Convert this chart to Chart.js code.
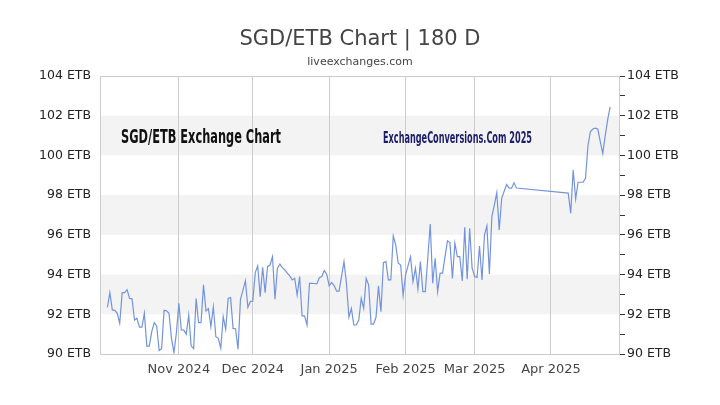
<!DOCTYPE html>
<html><head><meta charset="utf-8">
<script src="https://cdn.jsdelivr.net/npm/chart.js@4"></script>
<style>html,body{margin:0;padding:0;background:#fff}</style>
</head><body>
<canvas id="c" width="720" height="405"></canvas>
<script>
// day numbers are days after 2024-09-30
const firstDay = 3;
const rates = [
92.35,93.09,92.22,92.20,92.05,91.55,93.09,93.09,93.24,92.80,
92.78,91.71,91.80,91.35,91.35,92.05,90.40,90.40,91.13,91.58,
91.41,90.17,90.27,92.20,92.18,92.05,90.79,90.07,91.07,92.55,
91.21,91.20,91.00,91.96,90.40,90.27,92.79,91.58,91.58,93.48,
92.18,92.28,91.38,92.38,90.87,90.79,90.29,91.88,91.24,92.80,
92.84,91.29,91.27,90.24,92.76,93.20,93.69,92.35,92.64,92.67,
94.10,94.43,92.89,94.37,93.09,94.40,94.48,94.90,92.76,94.32,
94.53,94.35,94.23,94.07,93.93,93.73,93.81,92.97,93.90,91.92,
91.92,91.46,93.56,93.56,93.55,93.53,93.84,93.90,94.20,94.02,
93.43,93.60,93.45,93.17,93.17,93.90,94.65,93.56,91.85,92.30,
91.46,91.46,91.71,92.80,92.30,93.81,93.48,91.50,91.50,91.85,
93.43,92.13,94.60,94.65,93.73,93.73,95.94,95.49,94.57,94.48,
92.95,93.98,94.45,94.90,93.64,94.32,93.27,94.65,93.14,93.14,
94.82,96.55,93.56,94.82,93.14,94.07,94.07,94.90,95.70,95.61,
93.81,95.58,94.90,94.90,93.68,96.38,93.76,96.33,94.32,93.90,
93.86,95.44,93.73,95.99,96.45,94.03,96.92,97.50,98.13,96.25,
97.84,98.20,98.53,98.35,98.35,98.62,98.36,
null,null,null,null,null,null,null,null,null,null,
null,null,null,null,null,null,null,null,null,null,
98.10,97.09,99.27,97.80,98.65,98.65,98.65,98.85,100.50,101.20,
101.33,101.37,101.33,100.70,100.10,101.00,101.80,102.45
];
const monthTicks = [32, 62, 93, 124, 152, 183];
const monthLabels = ['Nov 2024', 'Dec 2024', 'Jan 2025', 'Feb 2025', 'Mar 2025', 'Apr 2025'];
const bands = [[92, 94], [96, 98], [100, 102]];
const yMin = 90, yMax = 104;
const titleText = 'SGD/ETB Chart | 180 D';
const subtitleText = 'liveexchanges.com';
const leftNote = 'SGD/ETB Exchange Chart';
const rightNote = 'ExchangeConversions.Com 2025';

const points = rates.map((v, i) => ({x: firstDay + i, y: v}));

function drawScaledText(ctx, text, x, y, font, color, targetW) {
  ctx.save();
  ctx.font = font;
  ctx.fillStyle = color;
  ctx.textAlign = 'left';
  ctx.textBaseline = 'alphabetic';
  const w = ctx.measureText(text).width;
  const sx = targetW / w;
  ctx.translate(x, y);
  ctx.scale(sx, 1);
  ctx.fillText(text, 0, 0);
  ctx.restore();
}

const decor = {
  id: 'decor',
  beforeDraw(chart) {
    const {ctx, chartArea: a, scales} = chart;
    ctx.save();
    ctx.fillStyle = '#fff';
    ctx.fillRect(0, 0, chart.width, chart.height);
    ctx.fillStyle = '#444';
    ctx.textAlign = 'center';
    ctx.textBaseline = 'middle';
    ctx.font = '21px "DejaVu Sans"';
    ctx.fillText(titleText, 360, 40);
    ctx.font = '11px "DejaVu Sans"';
    ctx.fillText(subtitleText, 360, 62);
    ctx.fillStyle = '#f3f3f3';
    bands.forEach(([lo, hi]) => {
      const y1 = scales.y.getPixelForValue(hi);
      const y2 = scales.y.getPixelForValue(lo);
      ctx.fillRect(a.left, y1, a.right - a.left, y2 - y1);
    });
    ctx.restore();
  },
  beforeDatasetsDraw(chart) {
    const {ctx, chartArea: a} = chart;
    ctx.save();
    ctx.strokeStyle = '#cccccc';
    ctx.lineWidth = 1;
    ctx.strokeRect(a.left + 0.5, a.top + 0.5, a.right - a.left - 1, a.bottom - a.top);
    ctx.restore();
    drawScaledText(ctx, leftNote, 121, 142.5, 'bold 20px "DejaVu Sans"', '#111', 160);
    drawScaledText(ctx, rightNote, 383, 143.3, 'bold 16px "DejaVu Sans"', '#1c1c6c', 149);
  }
};

new Chart(document.getElementById('c'), {
  type: 'line',
  data: {
    datasets: [{
      data: points,
      borderColor: '#7394dc',
      borderWidth: 1.2,
      pointRadius: 0,
      tension: 0,
      spanGaps: true,
      yAxisID: 'y'
    }]
  },
  options: {
    responsive: false,
    animation: false,
    layout: {padding: {top: 76, left: 0, right: 0, bottom: 0}},
    plugins: {legend: {display: false}, tooltip: {enabled: false}, title: {display: false}},
    scales: {
      x: {
        type: 'linear', min: 0, max: 211,
        afterBuildTicks(s) { s.ticks = monthTicks.map(v => ({value: v})); },
        afterFit(s) { s.height = 51; },
        grid: {color: '#cccccc', drawTicks: false},
        border: {display: false},
        ticks: {
          padding: 8, color: '#444', font: {family: 'DejaVu Sans', size: 13},
          autoSkip: false, maxRotation: 0,
          callback: v => { const i = monthTicks.indexOf(v); return i >= 0 ? monthLabels[i] : ''; }
        }
      },
      y: {
        position: 'left', min: yMin, max: yMax,
        afterFit(s) { s.width = 100; },
        grid: {display: false, drawTicks: false},
        border: {display: false},
        ticks: {stepSize: 2, padding: 9, color: '#222', font: {family: 'DejaVu Sans', size: 12.5},
          callback: v => v + ' ETB'}
      },
      y2: {
        position: 'right', min: yMin, max: yMax,
        afterFit(s) { s.width = 100; },
        grid: {drawOnChartArea: false, color: '#333', tickLength: 5},
        border: {display: false},
        ticks: {stepSize: 1, autoSkip: false, padding: 2, color: '#222', font: {family: 'DejaVu Sans', size: 12.5},
          callback: v => (v % 2 === 0 ? v + ' ETB' : '')}
      }
    }
  },
  plugins: [decor]
});
</script>
</body></html>
